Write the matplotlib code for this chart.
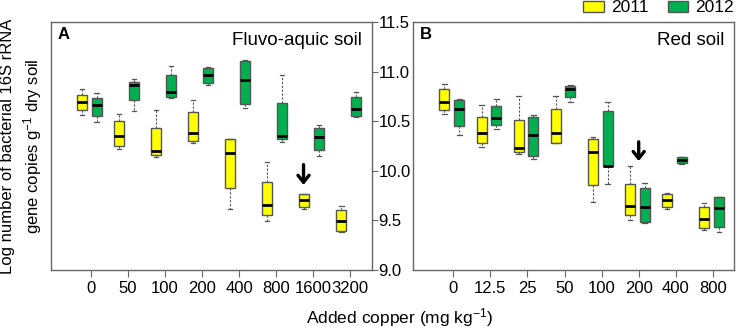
import matplotlib
matplotlib.use('Agg')
import matplotlib.pyplot as plt
from matplotlib.patches import Patch

plt.rcParams['font.family'] = ['Liberation Sans', 'DejaVu Sans']
plt.rcParams['mathtext.default'] = 'regular'

# Fluvo-aquic soil (panel A)
cats_a = ['0', '50', '100', '200', '400', '800', '1600', '3200']
# each row: whisker low, q1, median, q3, whisker high
a_2011 = [
    [10.56, 10.61, 10.69, 10.76, 10.82],
    [10.22, 10.25, 10.35, 10.50, 10.57],
    [10.14, 10.16, 10.20, 10.43, 10.61],
    [10.28, 10.30, 10.38, 10.59, 10.71],
    [9.62, 9.83, 10.18, 10.32, 10.32],
    [9.49, 9.55, 9.66, 9.89, 10.09],
    [9.62, 9.64, 9.71, 9.77, 9.77],
    [9.38, 9.39, 9.49, 9.61, 9.65],
]
a_2012 = [
    [10.49, 10.55, 10.66, 10.73, 10.78],
    [10.60, 10.71, 10.87, 10.90, 10.93],
    [10.73, 10.74, 10.79, 10.97, 11.06],
    [10.87, 10.89, 10.97, 11.04, 11.05],
    [10.63, 10.67, 10.92, 11.11, 11.12],
    [10.29, 10.32, 10.35, 10.68, 10.97],
    [10.15, 10.21, 10.34, 10.43, 10.46],
    [10.54, 10.55, 10.62, 10.74, 10.79],
]

# Red soil (panel B)
cats_b = ['0', '12.5', '25', '50', '100', '200', '400', '800']
b_2011 = [
    [10.57, 10.61, 10.69, 10.82, 10.88],
    [10.24, 10.28, 10.38, 10.54, 10.66],
    [10.17, 10.19, 10.23, 10.51, 10.75],
    [10.28, 10.28, 10.38, 10.62, 10.75],
    [9.69, 9.86, 10.19, 10.32, 10.34],
    [9.50, 9.55, 9.65, 9.87, 10.05],
    [9.62, 9.64, 9.71, 9.77, 9.78],
    [9.40, 9.42, 9.51, 9.64, 9.68],
]
b_2012 = [
    [10.36, 10.45, 10.62, 10.71, 10.72],
    [10.42, 10.46, 10.53, 10.65, 10.72],
    [10.12, 10.15, 10.36, 10.54, 10.56],
    [10.69, 10.74, 10.82, 10.86, 10.87],
    [9.87, 10.05, 10.05, 10.60, 10.69],
    [9.47, 9.48, 9.64, 9.83, 9.88],
    [10.07, 10.08, 10.11, 10.14, 10.14],
    [9.38, 9.43, 9.63, 9.74, 9.74],
]

# arrows: (category index, x shift, tail y, head y)
arrow_a = (7, -0.26, 10.09, 9.83)
arrow_b = (6, 0.0, 10.32, 10.07)

YELLOW = '#FFFF00'
GREEN = '#00B050'
EDGE = '#555555'
FRAME = '#666666'


def to_stats(rows):
    return [dict(whislo=r[0], q1=r[1], med=r[2], q3=r[3], whishi=r[4]) for r in rows]


def draw_boxes(ax, rows, positions, color):
    ax.bxp(to_stats(rows), positions=positions, widths=0.27, capwidths=0.12,
           showfliers=False, patch_artist=True, manage_ticks=False,
           boxprops=dict(facecolor=color, edgecolor=EDGE, linewidth=1.0),
           medianprops=dict(color='black', linewidth=2.0, solid_capstyle='butt'),
           whiskerprops=dict(color=EDGE, linewidth=0.8, linestyle=(0, (2, 1.5))),
           capprops=dict(color=EDGE, linewidth=0.9))


def plot_panel(ax, cats, y2011, y2012, letter, title, arrow):
    pos = list(range(1, len(cats) + 1))
    draw_boxes(ax, y2011, [p - 0.24 for p in pos], YELLOW)
    draw_boxes(ax, y2012, [p + 0.16 for p in pos], GREEN)

    ax.set_xlim(-0.08, 8.58)
    ax.set_ylim(9.0, 11.5)
    ax.set_xticks(pos)
    ax.set_xticklabels(cats, fontsize=12)
    ax.tick_params(axis='x', direction='out', length=5, width=0.8, color=FRAME, pad=3)
    for s in ax.spines.values():
        s.set_color(FRAME)
        s.set_linewidth(1.0)

    ax.text(0.02, 0.95, letter, transform=ax.transAxes, fontsize=12,
            fontweight='bold', ha='left', va='center')
    ax.text(0.97, 0.925, title, transform=ax.transAxes, fontsize=13.5,
            ha='right', va='center')

    i, dx, y0, y1 = arrow
    ax.annotate('', xy=(i + dx, y1), xytext=(i + dx, y0),
                arrowprops=dict(arrowstyle='->,head_length=0.5,head_width=0.4',
                                color='black', lw=2.4))


def main():
    fig = plt.figure(figsize=(7.37, 3.32), dpi=100)
    ax1 = fig.add_axes([0.0688, 0.1867, 0.4356, 0.747])
    ax2 = fig.add_axes([0.5608, 0.1867, 0.4356, 0.747])

    plot_panel(ax1, cats_a, a_2011, a_2012, 'A', 'Fluvo-aquic soil', arrow_a)
    plot_panel(ax2, cats_b, b_2011, b_2012, 'B', 'Red soil', arrow_b)

    # shared y axis sits between the panels
    ax1.yaxis.tick_right()
    ax1.set_yticks([9.0, 9.5, 10.0, 10.5, 11.0, 11.5])
    ax1.set_yticklabels(['9.0', '9.5', '10.0', '10.5', '11.0', '11.5'], fontsize=12)
    ax1.tick_params(axis='y', direction='out', length=4, width=0.8, color=FRAME, pad=1)
    ax2.set_yticks([])

    fig.text(0.03, 0.56, 'Log number of bacterial 16S rRNA\ngene copies g$^{-1}$ dry soil',
             rotation=90, ha='center', va='center', fontsize=12, linespacing=1.35)
    fig.text(0.542, 0.045, 'Added copper (mg kg$^{-1}$)', ha='center', va='center', fontsize=12.5)

    handles = [Patch(facecolor=YELLOW, edgecolor=EDGE, label='2011'),
               Patch(facecolor=GREEN, edgecolor=EDGE, label='2012')]
    fig.legend(handles=handles, loc='upper right', bbox_to_anchor=(1.01, 1.03), ncol=2,
               frameon=False, fontsize=12.5, handlelength=1.2, handleheight=0.65,
               handletextpad=0.4, columnspacing=1.1, borderaxespad=0.2)

    fig.savefig('out.png', dpi=100)


if __name__ == '__main__':
    main()
